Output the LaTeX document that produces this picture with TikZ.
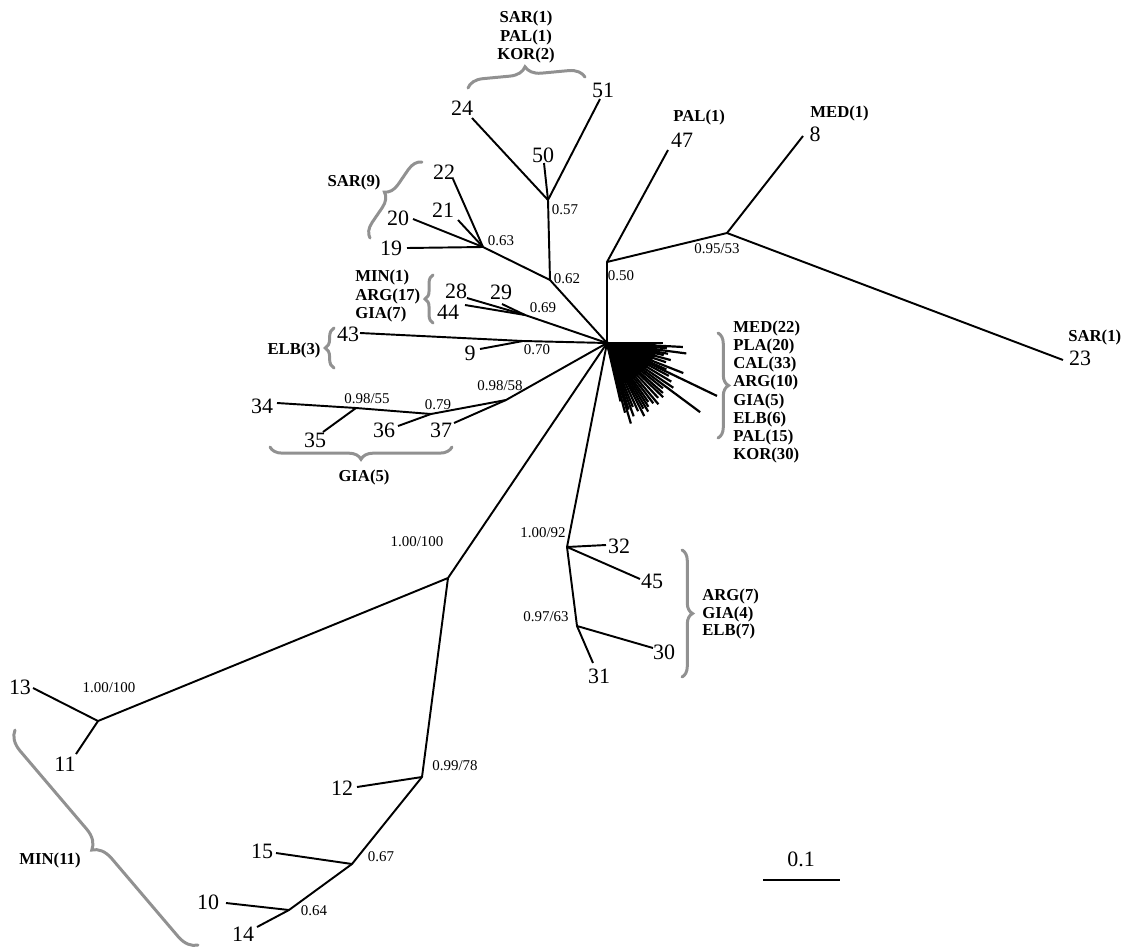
\documentclass[tikz,border=0pt]{standalone}
\usepackage{fontspec}
\setmainfont{Liberation Serif}
\usetikzlibrary{decorations.pathreplacing}
\definecolor{bracegray}{RGB}{145,145,145}
\begin{document}
\begin{tikzpicture}[x=0.02cm,y=-0.02cm,
  br/.style={line width=1.1pt, line join=round},
  leaf/.style={font=\fontsize{12.5}{14}\selectfont, inner sep=0pt},
  sup/.style={font=\fontsize{8.5}{10}\selectfont, inner sep=0pt},
  grp/.style={font=\fontsize{9.5}{10.4}\selectfont\bfseries, inner sep=0pt},
  brc/.style={draw=bracegray, line width=1.7pt, line cap=round, decorate, decoration={brace, amplitude=#1}},
  brc/.default=6pt]
\useasboundingbox (0,0) rectangle (1132,950);

% ---- internal nodes and leaf ends
\coordinate (C) at (607,343);
\coordinate (n50) at (607,262);
\coordinate (n95) at (727,233);
\coordinate (e47) at (668,150);
\coordinate (e8) at (803,136);
\coordinate (e23) at (1063,360);
\coordinate (n62) at (550,280);
\coordinate (n57) at (548,200);
\coordinate (e24) at (472,118);
\coordinate (e50) at (544,163);
\coordinate (e51) at (600,99);
\coordinate (n63) at (483,247);
\coordinate (e22) at (453,179);
\coordinate (e21) at (458,220);
\coordinate (e20) at (413,219);
\coordinate (e19) at (407,248);
\coordinate (n69) at (525,315);
\coordinate (e28) at (467,298);
\coordinate (e44) at (465,305);
\coordinate (e29) at (502,304);
\coordinate (n70) at (523,341);
\coordinate (e43) at (360,333);
\coordinate (e9) at (480,349);
\coordinate (n58) at (506,400);
\coordinate (n79) at (431,414);
\coordinate (n55) at (356,408);
\coordinate (e34) at (277,403);
\coordinate (e35) at (323,432);
\coordinate (e36) at (398,426);
\coordinate (e37) at (454,423);
\coordinate (nA) at (448,578);
\coordinate (nB) at (98,721);
\coordinate (e13) at (33,688);
\coordinate (e11) at (76,754);
\coordinate (n78) at (422,777);
\coordinate (e12) at (357,787);
\coordinate (n67) at (352,864);
\coordinate (e15) at (276,853);
\coordinate (n64) at (289,910);
\coordinate (e10) at (226,903);
\coordinate (e14) at (257,927);
\coordinate (n92) at (567,547);
\coordinate (e32) at (606,545);
\coordinate (e45) at (640,579);
\coordinate (n63b) at (577,626);
\coordinate (e30) at (653,648);
\coordinate (e31) at (593,663);

% ---- branches
\draw[br] (C) -- (n50) -- (e47);
\draw[br] (n50) -- (n95) -- (e8);
\draw[br] (n95) -- (e23);
\draw[br] (C) -- (n62) -- (n57) -- (e24);
\draw[br] (n57) -- (e50);
\draw[br] (n57) -- (e51);
\draw[br] (n62) -- (n63) -- (e22);
\draw[br] (n63) -- (e21);
\draw[br] (n63) -- (e20);
\draw[br] (n63) -- (e19);
\draw[br] (C) -- (n69) -- (e28);
\draw[br] (n69) -- (e44);
\draw[br] (n69) -- (e29);
\draw[br] (C) -- (n70) -- (e43);
\draw[br] (n70) -- (e9);
\draw[br] (C) -- (n58) -- (n79) -- (n55) -- (e34);
\draw[br] (n55) -- (e35);
\draw[br] (n79) -- (e36);
\draw[br] (n58) -- (e37);
\draw[br] (C) -- (nA) -- (nB) -- (e13);
\draw[br] (nB) -- (e11);
\draw[br] (nA) -- (n78) -- (e12);
\draw[br] (n78) -- (n67) -- (e15);
\draw[br] (n67) -- (n64) -- (e10);
\draw[br] (n64) -- (e14);
\draw[br] (C) -- (n92) -- (e32);
\draw[br] (n92) -- (e45);
\draw[br] (n92) -- (n63b) -- (e30);
\draw[br] (n63b) -- (e31);

% ---- star of short branches
\fill (C) -- ++(0:48) -- ++(70:8) -- ++(120:18) -- ++(140:20) -- ++(160:14) -- cycle;
\foreach \a/\l in {0/56,3/76,5/60,7.5/80,10/62,12/58,15/66,18/62,21.5/82,24/65,25.7/122,28/70,31/75,34/80,36.6/116,39/72,41.8/75,44/78,47/75,50/80,52.5/76,55/72,57/76,59/80,61/75,63/82,65.5/75,68/69,70/78,72/70,73.5/84,75.5/72,77/60}
  \draw[br, line width=1.25pt] (C) -- ++(\a:\l);

% ---- leaf labels
\node[leaf] (l47) at (682,140) {47};
\node[leaf] (l8) at (815,134) {8};
\node[leaf] (l23) at (1080,358) {23};
\node[leaf] (l24) at (462,108) {24};
\node[leaf] (l50) at (543,155) {50};
\node[leaf] (l51) at (603,90) {51};
\node[leaf] (l22) at (444,172) {22};
\node[leaf] (l21) at (443,210) {21};
\node[leaf] (l20) at (398,218) {20};
\node[leaf] (l19) at (391,248) {19};
\node[leaf] (l28) at (456,291) {28};
\node[leaf] (l29) at (501,292) {29};
\node[leaf] (l44) at (448,312) {44};
\node[leaf] (l43) at (348,334) {43};
\node[leaf] (l9) at (470,353) {9};
\node[leaf] (l34) at (262,406) {34};
\node[leaf] (l35) at (315,440) {35};
\node[leaf] (l36) at (384,430) {36};
\node[leaf] (l37) at (441,430) {37};
\node[leaf] (l13) at (20,687) {13};
\node[leaf] (l11) at (65,764) {11};
\node[leaf] (l12) at (342,788) {12};
\node[leaf] (l15) at (262,851) {15};
\node[leaf] (l10) at (208,902) {10};
\node[leaf] (l14) at (243,934) {14};
\node[leaf] (l32) at (619,546) {32};
\node[leaf] (l45) at (652,581) {45};
\node[leaf] (l30) at (664,652) {30};
\node[leaf] (l31) at (599,676) {31};

% ---- support values
\node[sup] (s50) at (621,276) {0.50};
\node[sup] (s95) at (717,249) {0.95/53};
\node[sup] (s57) at (565,210) {0.57};
\node[sup] (s62) at (567,279) {0.62};
\node[sup] (s63) at (501,241) {0.63};
\node[sup] (s69) at (543,308) {0.69};
\node[sup] (s70) at (537,350) {0.70};
\node[sup] (s58) at (500,386) {0.98/58};
\node[sup] (s79) at (438,405) {0.79};
\node[sup] (s55) at (367,399) {0.98/55};
\node[sup] (sA) at (417,542) {1.00/100};
\node[sup] (sB) at (109,688) {1.00/100};
\node[sup] (s78) at (455,766) {0.99/78};
\node[sup] (s67) at (381,857) {0.67};
\node[sup] (s64) at (314,911) {0.64};
\node[sup] (s92) at (543,533) {1.00/92};
\node[sup] (s63b) at (546,617) {0.97/63};

% ---- group labels
\node[grp, align=center] (gtop) at (526,37) {SAR(1)\\PAL(1)\\KOR(2)};
\node[grp, anchor=west] (gpal) at (673,117) {PAL(1)};
\node[grp, anchor=west] (gmed) at (810,113) {MED(1)};
\node[grp, anchor=west] (gsar) at (1068,337) {SAR(1)};
\node[grp] (gsar9) at (354,182) {SAR(9)};
\node[grp, anchor=west, align=left] (gmin1) at (355,296) {MIN(1)\\ARG(17)\\GIA(7)};
\node[grp] (gelb3) at (294,350) {ELB(3)};
\node[grp] (ggia5) at (364,477) {GIA(5)};
\node[grp, anchor=west, align=left] (gstar) at (733,392) {MED(22)\\PLA(20)\\CAL(33)\\ARG(10)\\GIA(5)\\ELB(6)\\PAL(15)\\KOR(30)};
\node[grp, anchor=west, align=left, font=\fontsize{9.5}{9.9}\selectfont\bfseries] (garg7) at (702,614) {ARG(7)\\GIA(4)\\ELB(7)};
\node[grp] (gmin11) at (50,860) {MIN(11)};

% ---- braces
\draw[brc=9pt] (468,88) -- (585,77);
\draw[brc=8pt] (370,238) -- (422,162);
\draw[brc=4.5pt] (433,323) -- (433,275);
\draw[brc=5pt] (334,368) -- (334,328);
\draw[brc=7pt] (452,447) -- (270,447);
\draw[brc=6pt] (718,333) -- (718,438);
\draw[brc=6pt] (682,550) -- (682,677);
\draw[brc=11pt] (198,945) -- (15,730);

% ---- scale bar
\coordinate (sb1) at (763,880);
\coordinate (sb2) at (840,880);
\draw[br] (sb1) -- (sb2);
\node[leaf] (sbl) at (801,859) {0.1};
\end{tikzpicture}
\end{document}
